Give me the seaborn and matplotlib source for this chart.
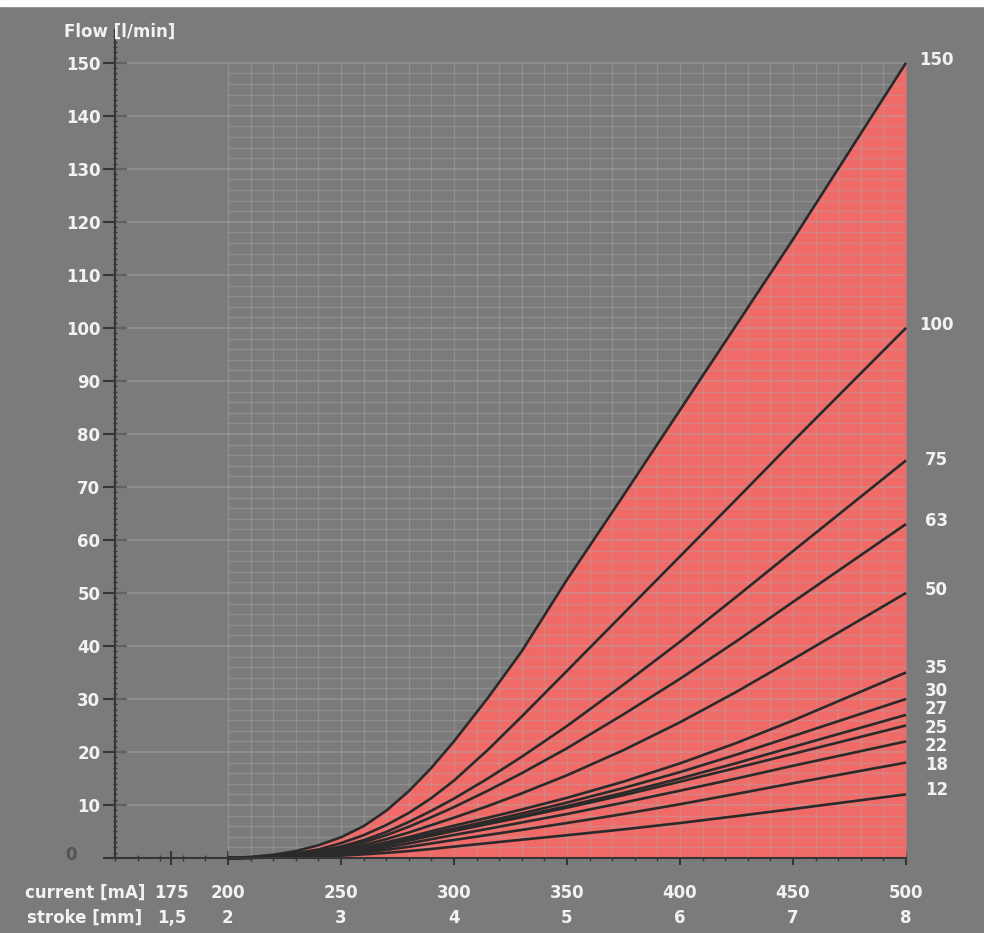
import numpy as np
import pandas as pd
import matplotlib
matplotlib.use("Agg")
import matplotlib.pyplot as plt
import seaborn as sns
from matplotlib.ticker import MultipleLocator
from matplotlib.patches import Rectangle

# ---------------- data ----------------
current = [200, 210, 220, 230, 240, 250, 260, 270, 280, 290, 300, 315, 330, 350, 375, 400, 425, 450, 500]

flow_150 = [0, 0.2, 0.6, 1.3, 2.4, 3.9, 6.0, 8.9, 12.6, 17.0, 22.0, 30.2, 39.0, 52.5, 68.4, 84.5, 100.6, 116.7, 150.0]
flow_100 = [0, 0.13, 0.4, 0.9, 1.6, 2.8, 4.3, 6.2, 8.5, 11.3, 14.6, 20.4, 26.7, 35.3, 46.1, 56.9, 67.7, 78.6, 100.0]
flow_75 = [0, 0.09, 0.3, 0.7, 1.28, 2.15, 3.35, 4.9, 6.8, 8.9, 11.2, 15.0, 19.1, 24.9, 32.7, 40.8, 49.3, 57.9, 75.0]
flow_63 = [0, 0.08, 0.27, 0.62, 1.13, 1.9, 2.95, 4.3, 5.9, 7.7, 9.6, 12.7, 16.0, 20.7, 27.1, 33.8, 40.9, 48.3, 63.0]
flow_50 = [0, 0.07, 0.23, 0.52, 0.95, 1.58, 2.45, 3.55, 4.8, 6.2, 7.6, 9.8, 12.2, 15.6, 20.35, 25.6, 31.35, 37.5, 50.0]
flow_35 = [0, 0.06, 0.19, 0.44, 0.8, 1.33, 2.05, 2.95, 3.95, 5.05, 6.1, 7.6, 9.15, 11.35, 14.4, 17.85, 21.7, 25.95, 35.0]
flow_30 = [0, 0.05, 0.18, 0.4, 0.74, 1.22, 1.88, 2.7, 3.6, 4.6, 5.55, 6.95, 8.4, 10.45, 13.2, 16.2, 19.5, 23.0, 30.0]
flow_27 = [0, 0.05, 0.17, 0.38, 0.7, 1.15, 1.78, 2.55, 3.4, 4.35, 5.25, 6.55, 7.9, 9.8, 12.3, 15.0, 17.9, 20.95, 27.0]
flow_25 = [0, 0.05, 0.16, 0.36, 0.66, 1.1, 1.7, 2.45, 3.3, 4.2, 5.1, 6.4, 7.7, 9.5, 11.85, 14.4, 17.0, 19.65, 25.0]
flow_22 = [0, 0.04, 0.13, 0.3, 0.55, 0.9, 1.38, 2.0, 2.75, 3.55, 4.35, 5.5, 6.7, 8.3, 10.45, 12.7, 15.0, 17.4, 22.0]
flow_18 = [0, 0.03, 0.1, 0.23, 0.42, 0.68, 1.05, 1.55, 2.1, 2.75, 3.4, 4.35, 5.3, 6.6, 8.3, 10.15, 12.1, 14.1, 18.0]
flow_12 = [0, 0.03, 0.08, 0.16, 0.28, 0.45, 0.68, 0.97, 1.3, 1.7, 2.15, 2.8, 3.45, 4.3, 5.4, 6.6, 7.9, 9.25, 12.0]

series_names = ["150", "100", "75", "63", "50", "35", "30", "27", "25", "22", "18", "12"]
series_values = [flow_150, flow_100, flow_75, flow_63, flow_50, flow_35,
                 flow_30, flow_27, flow_25, flow_22, flow_18, flow_12]

tick_current = [175, 200, 250, 300, 350, 400, 450, 500]
tick_stroke = ["1,5", "2", "3", "4", "5", "6", "7", "8"]
y_ticks = list(range(0, 151, 10))

# label nudges (layout only, data units)
label_nudge = [0.6, 0.6, 0.1, 0.6, 0.6, 0.8, 1.5, 1.1, -0.5, -0.9, -0.5, 0.8]

# ---------------- style ----------------
BG = "#7b7b7b"
TXT = "#f2f2f2"
RED = "#f06b68"
LINE = "#2a2a2a"
AXC = "#363636"

sns.set_theme(style="ticks")
plt.rcParams["font.family"] = ["DejaVu Sans"]
plt.rcParams["font.weight"] = "bold"

W, H = 984, 933
fig = plt.figure(figsize=(W / 100, H / 100), dpi=100, facecolor=BG)
fig.patches.append(Rectangle((0, 1 - 6 / H), 1, 6 / H, transform=fig.transFigure,
                             color="white", zorder=0))

ax = fig.add_axes([107 / W, 75 / H, (906 - 107) / W, (858 - 30) / H])
ax.set_facecolor(BG)
ax.set_xlim(146.5, 500)
ax.set_ylim(0, 156.2)

# red area under the 150 curve
ax.fill_between(current, 0, flow_150, color=RED, lw=0, zorder=1)

# grid
gcol = "#a9a9a9"
ax.vlines(np.arange(200, 501, 10), 0, 150, color=gcol, alpha=0.4, lw=1.0, zorder=2)
minor_y = [v for v in np.arange(2, 151, 2) if v % 10 != 0]
ax.hlines(minor_y, 200, 500, color=gcol, alpha=0.4, lw=1.0, zorder=2)
ax.hlines(np.arange(10, 151, 10), 150, 500, color="#ababab", alpha=0.5, lw=1.1, zorder=2)

# curves
rows = []
for name, vals in zip(series_names, series_values):
    for c, f in zip(current, vals):
        rows.append({"current": c, "flow": f, "series": name})
df = pd.DataFrame(rows)
sns.lineplot(data=df, x="current", y="flow", hue="series", hue_order=series_names,
             palette={n: LINE for n in series_names}, legend=False, sort=False,
             estimator=None, lw=1.9, ax=ax)
for ln in ax.lines:
    ln.set_zorder(3)
    ln.set_clip_on(False)
    ln.set_solid_capstyle("butt")
    ln.set_solid_joinstyle("round")

# right-hand labels
for name, vals, dy in zip(series_names, series_values, label_nudge):
    ax.text(513.5, vals[-1] + dy, name, ha="center", va="center", color=TXT,
            fontsize=12, fontweight="bold", clip_on=False)

# spines
for s in ["top", "right"]:
    ax.spines[s].set_visible(False)
ax.spines["left"].set_position(("data", 150))
for s in ["left", "bottom"]:
    ax.spines[s].set_color(AXC)
    ax.spines[s].set_linewidth(1.5)
    ax.spines[s].set_zorder(4)

# y ticks
ax.set_yticks(y_ticks)
ax.set_yticklabels(["" if v == 0 else str(v) for v in y_ticks])
ax.yaxis.set_minor_locator(MultipleLocator(1))
ax.tick_params(axis="y", which="major", direction="inout", length=17, width=1.5,
               color=AXC, pad=2, labelsize=12, labelcolor=TXT)
ax.tick_params(axis="y", which="minor", direction="inout", length=3, width=1.0, color=AXC)

# x ticks
ax.set_xticks(tick_current)
ax.set_xticklabels([f"{c}\n{s}" for c, s in zip(tick_current, tick_stroke)],
                   linespacing=1.5)
ax.xaxis.set_minor_locator(MultipleLocator(10))
ax.tick_params(axis="x", which="major", direction="inout", length=10, width=1.5,
               color=AXC, pad=13.5, labelsize=12, labelcolor=TXT)
ax.tick_params(axis="x", which="minor", direction="inout", length=4, width=1.0, color=AXC)
ax.set_xlabel("")
ax.set_ylabel("")

# extra texts
fig.text(77 / W, 1 - 855 / H, "0", ha="right", va="center", fontsize=12,
         fontweight="bold", color="#555555")
fig.text(120 / W, 1 - 32 / H, "Flow [l/min]", ha="center", va="center", fontsize=12,
         fontweight="bold", color=TXT)
fig.text(85 / W, 1 - 893 / H, "current [mA]", ha="center", va="center", fontsize=12,
         fontweight="bold", color=TXT)
fig.text(85 / W, 1 - 918 / H, "stroke [mm]", ha="center", va="center", fontsize=12,
         fontweight="bold", color=TXT)

fig.savefig("out.png", dpi=100, facecolor=BG)
